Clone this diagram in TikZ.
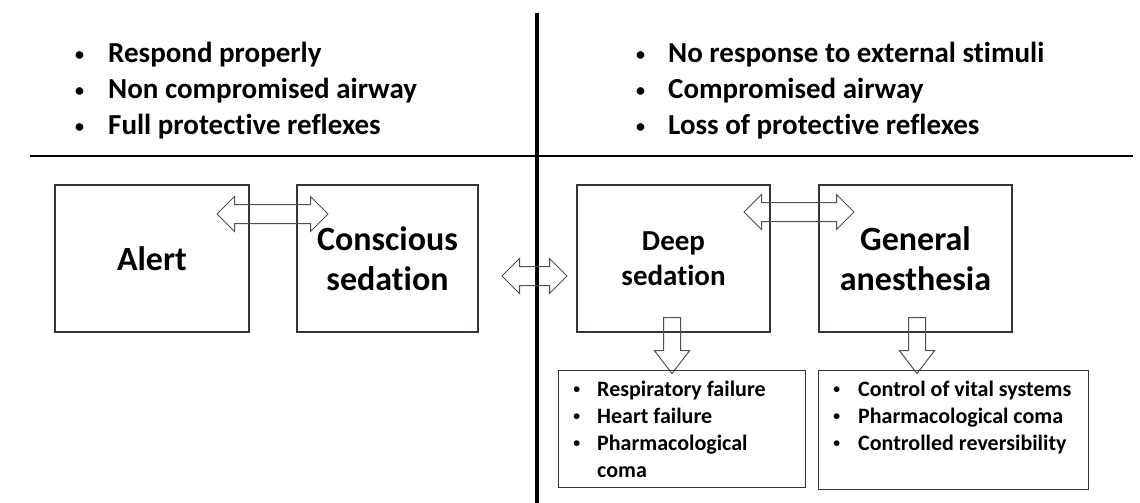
\documentclass[tikz,border=0pt]{standalone}
\usepackage{fontspec}
\setmainfont{Carlito}[Ligatures=NoCommon]
\usetikzlibrary{shapes.arrows}
\definecolor{boxline}{RGB}{62,50,46}
\definecolor{arrline}{RGB}{80,80,80}
\tikzset{
  stage/.style={draw=boxline,line width=1.2pt,inner sep=0pt,align=center,font=\bfseries\fontsize{34}{40}\selectfont},
  listbox/.style={draw=boxline,line width=1.2pt,inner sep=0pt},
  twoway/.style={double arrow,draw=arrline,line width=1pt,inner xsep=0pt,inner ysep=9pt,double arrow head extend=8pt,double arrow tip angle=90},
  oneway/.style={single arrow,draw=arrline,line width=1pt,rotate=-90,inner xsep=0pt,inner ysep=8pt,single arrow head extend=9pt,single arrow tip angle=75},
  toplist/.style={anchor=base west,inner sep=0pt,font=\bfseries\fontsize{29}{36}\selectfont},
  lowlist/.style={anchor=base west,inner sep=0pt,font=\bfseries\fontsize{22}{27}\selectfont}
}
\newcommand{\bul}[1][36pt]{\makebox[#1][l]{\hspace{0.1em}\raisebox{0.1em}{\scalebox{0.62}{\textbullet}}}}
\begin{document}
\begin{tikzpicture}[x=1pt,y=1pt]
\useasboundingbox (0,0) rectangle (1140,-503);
% dividers
\draw[line width=1.8pt] (30,-156) -- (1133,-156);
\draw[line width=4pt] (537,-13) -- (537,-503);
% airway and reflexes
\node[toplist] (keep) at (72,-63) {\begin{tabular}[t]{@{}l@{}}
\bul Respond properly\\ \bul Non compromised airway\\ \bul Full protective reflexes\end{tabular}};
\node[toplist] (lose) at (633,-63) {\begin{tabular}[t]{@{}l@{}}
\bul[35pt]No response to external stimuli\\ \bul[35pt]Compromised airway\\ \bul[35pt]Loss of protective reflexes\end{tabular}};
% the four stages
\node[stage,minimum width=194,minimum height=147] (alert) at (152,-258.5) {Alert};
\node[stage,minimum width=181,minimum height=147] (consc) at (387.5,-258.5) {Conscious\\sedation};
\node[stage,minimum width=193,minimum height=147,font=\bfseries\fontsize{29}{35}\selectfont] (deep) at (673.5,-258.5) {Deep\\sedation};
\node[stage,minimum width=193,minimum height=147] (gen) at (915.5,-258.5) {General\\anesthesia};
% block arrows
\node[twoway,minimum height=111] (ac) at (272.5,-214) {};
\node[twoway,minimum height=65] (cd) at (534.5,-276) {};
\node[twoway,minimum height=110] (dg) at (799,-212) {};
\node[oneway,minimum height=56] (dr) at (672,-340) {};
\node[oneway,minimum height=56] (gr) at (917,-340) {};
% outcomes
\node[listbox,minimum width=247,minimum height=117,anchor=north west] (fail) at (558,-370) {};
\node[listbox,minimum width=270,minimum height=119,anchor=north west] (ctrl) at (818,-370) {};
\node[lowlist] (failtxt) at (571,-396) {\begin{tabular}[t]{@{}l@{}}
\bul[26pt]Respiratory failure\\ \bul[26pt]Heart failure\\ \bul[26pt]Pharmacological\\ \hspace*{26pt}coma\end{tabular}};
\node[lowlist] (ctrltxt) at (831,-396) {\begin{tabular}[t]{@{}l@{}}
\bul[27pt]Control of vital systems\\ \bul[27pt]Pharmacological coma\\ \bul[27pt]Controlled reversibility\end{tabular}};
\end{tikzpicture}
\end{document}
